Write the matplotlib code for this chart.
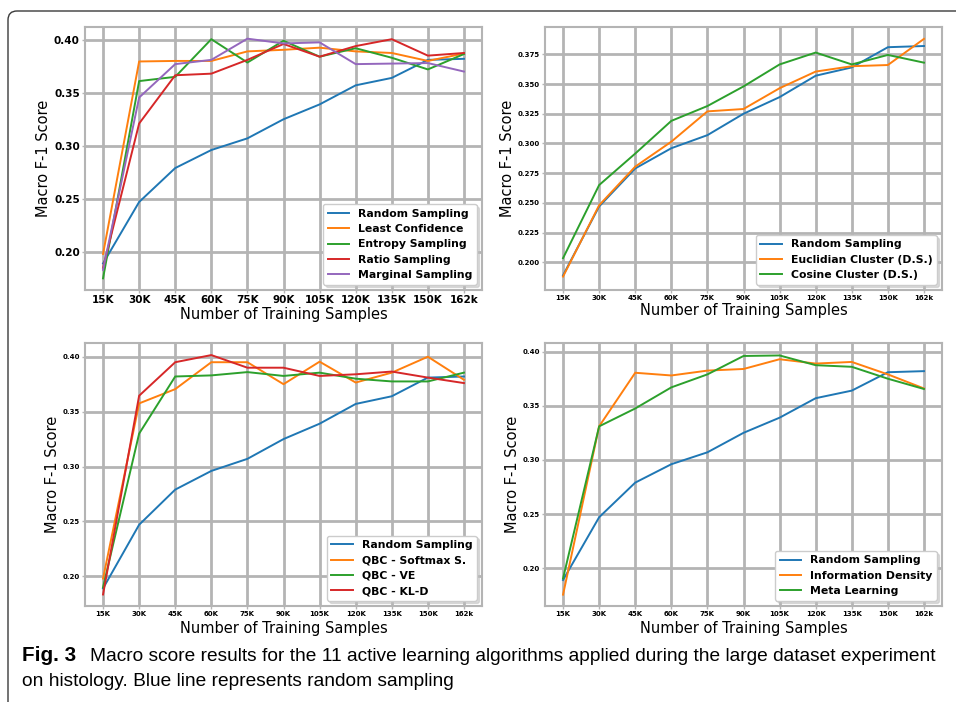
import matplotlib
matplotlib.use("Agg")
import matplotlib.pyplot as plt
from matplotlib.patches import PathPatch
from matplotlib.path import Path
import numpy as np

x_labels = ["15K", "30K", "45K", "60K", "75K", "90K", "105K", "120K", "135K", "150K", "162k"]

random_sampling = [0.189, 0.247, 0.279, 0.296, 0.307, 0.325, 0.339, 0.357, 0.364, 0.381, 0.382]

# Panel 1
least_confidence = [0.198, 0.3795, 0.380, 0.380, 0.389, 0.3905, 0.3925, 0.389, 0.3875, 0.380, 0.387]
entropy_sampling = [0.175, 0.361, 0.365, 0.4005, 0.3785, 0.399, 0.384, 0.392, 0.383, 0.372, 0.3865]
ratio_sampling = [0.185, 0.321, 0.3665, 0.368, 0.381, 0.396, 0.384, 0.394, 0.4005, 0.385, 0.3875]
marginal_sampling = [0.183, 0.3455, 0.377, 0.381, 0.401, 0.3965, 0.3975, 0.377, 0.3775, 0.378, 0.370]

# Panel 2
euclidian_cluster = [0.188, 0.248, 0.2805, 0.3015, 0.327, 0.329, 0.3465, 0.3605, 0.365, 0.366, 0.388]
cosine_cluster = [0.2035, 0.265, 0.2915, 0.319, 0.3315, 0.348, 0.3665, 0.3765, 0.3665, 0.3745, 0.368]

# Panel 3
qbc_softmax = [0.198, 0.3575, 0.3705, 0.395, 0.395, 0.375, 0.3955, 0.3765, 0.3855, 0.400, 0.379]
qbc_ve = [0.190, 0.330, 0.382, 0.383, 0.386, 0.3825, 0.3855, 0.380, 0.3775, 0.3775, 0.3855]
qbc_kld = [0.1835, 0.3645, 0.395, 0.4015, 0.390, 0.390, 0.3825, 0.384, 0.3865, 0.381, 0.376]

# Panel 4
information_density = [0.1755, 0.331, 0.3805, 0.378, 0.3825, 0.384, 0.393, 0.389, 0.3905, 0.379, 0.366]
meta_learning = [0.1905, 0.331, 0.3475, 0.367, 0.379, 0.396, 0.3965, 0.3875, 0.386, 0.375, 0.3655]

caption_bold = "Fig. 3"
caption_line1 = "Macro score results for the 11 active learning algorithms applied during the large dataset experiment"
caption_line2 = "on histology. Blue line represents random sampling"

C = ["#1f77b4", "#ff7f0e", "#2ca02c", "#d62728", "#9467bd"]

W, H = 956, 702
fig = plt.figure(figsize=(W / 100, H / 100), dpi=100)

def fx(px):
    return px / W

def fy(py):
    return 1 - py / H

# frame: top line + left line with a rounded top-left corner
r = 9
verts = [(fx(W + 2), fy(11)), (fx(8 + r), fy(11)), (fx(8), fy(11)), (fx(8), fy(11 + r)), (fx(8), fy(H + 2))]
codes = [Path.MOVETO, Path.LINETO, Path.CURVE3, Path.CURVE3, Path.LINETO]
fig.patches.append(PathPatch(Path(verts, codes), transform=fig.transFigure, fill=False,
                             edgecolor="#3a3a3a", linewidth=1.0))

def px_axes(x0, y0, x1, y1):
    return fig.add_axes([x0 / W, 1 - y1 / H, (x1 - x0) / W, (y1 - y0) / H])

panels = [
    dict(box=(85, 27, 482, 290), ylim=(0.164, 0.412), yticks=np.arange(0.20, 0.401, 0.05), fmt="%.2f", tfs=7.5, xpad=1.0,
         series=[("Random Sampling", random_sampling), ("Least Confidence", least_confidence),
                 ("Entropy Sampling", entropy_sampling), ("Ratio Sampling", ratio_sampling),
                 ("Marginal Sampling", marginal_sampling)]),
    dict(box=(545, 27, 942, 290), ylim=(0.1767, 0.398), yticks=np.arange(0.200, 0.3751, 0.025), fmt="%.3f", tfs=5, xpad=1.5,
         series=[("Random Sampling", random_sampling), ("Euclidian Cluster (D.S.)", euclidian_cluster),
                 ("Cosine Cluster (D.S.)", cosine_cluster)]),
    dict(box=(85, 343, 482, 606), ylim=(0.173, 0.4125), yticks=np.arange(0.20, 0.401, 0.05), fmt="%.2f", tfs=5, xpad=3,
         series=[("Random Sampling", random_sampling), ("QBC - Softmax S.", qbc_softmax),
                 ("QBC - VE", qbc_ve), ("QBC - KL-D", qbc_kld)]),
    dict(box=(545, 343, 942, 606), ylim=(0.165, 0.408), yticks=np.arange(0.20, 0.401, 0.05), fmt="%.2f", tfs=5, xpad=3,
         series=[("Random Sampling", random_sampling), ("Information Density", information_density),
                 ("Meta Learning", meta_learning)]),
]

xs = np.arange(len(x_labels))
gridc = "#b4b4b4"
for p in panels:
    ax = px_axes(*p["box"])
    for i, (lab, vals) in enumerate(p["series"]):
        ax.plot(xs, vals, color=C[i], lw=1.4, label=lab)
    ax.set_xlim(-0.5, 10.5)
    ax.set_ylim(*p["ylim"])
    ax.set_xticks(xs)
    ax.set_xticklabels(x_labels, fontsize=p["tfs"], fontweight="bold")
    ax.set_yticks(p["yticks"])
    ax.set_yticklabels([p["fmt"] % v for v in p["yticks"]], fontsize=p["tfs"], fontweight="bold")
    ax.grid(True, color=gridc, lw=2.0)
    ax.set_axisbelow(True)
    for s in ax.spines.values():
        s.set_color(gridc)
        s.set_linewidth(1.5)
    ax.tick_params(colors=gridc, labelcolor="black", length=2.5, width=1, pad=1.2)
    ax.set_xlabel("Number of Training Samples", fontsize=10.5, labelpad=p["xpad"])
    ax.set_ylabel("Macro F-1 Score", fontsize=10.5, labelpad=2.0)
    ax.legend(loc="lower right", prop={"weight": "bold", "size": 7.8},
              framealpha=1, edgecolor="#cccccc", fancybox=True,
              shadow={"color": "#bbbbbb", "alpha": 0.5})

# caption, fitted to the reference widths
cap_fam = ["Liberation Sans", "DejaVu Sans"]
fig.canvas.draw()
rend = fig.canvas.get_renderer()

def fitted_text(x_px, y_px, s, target_w, fs0=12.5, **kw):
    t = fig.text(fx(x_px), fy(y_px), s, fontsize=fs0, va="baseline", **kw)
    w = t.get_window_extent(renderer=rend).width
    t.set_fontsize(fs0 * target_w / w)
    return t

t1 = fitted_text(90, 661, caption_line1, 850, family=cap_fam)
cap_fs = t1.get_fontsize()
fig.text(fx(22), fy(661), caption_bold, fontsize=cap_fs * 1.08, va="baseline",
         family=cap_fam, fontweight="bold")
fig.text(fx(22), fy(686), caption_line2, fontsize=cap_fs, va="baseline", family=cap_fam)

fig.savefig("out.png", dpi=100)
